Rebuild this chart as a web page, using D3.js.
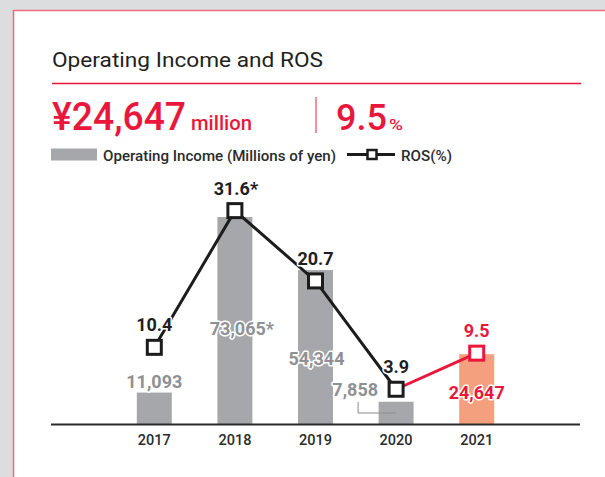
<!DOCTYPE html>
<html>
<head>
<meta charset="utf-8">
<script src="https://cdn.jsdelivr.net/npm/d3@7"></script>
<style>
  html, body { margin: 0; padding: 0; background: #dcdddf; }
  svg { display: block; font-family: Roboto, "Noto Sans", sans-serif; }
</style>
</head>
<body>
<svg id="chart" width="605" height="477"></svg>
<script>
// ---- data ----
const years = ["2017", "2018", "2019", "2020", "2021"];
const operatingIncome = [11093, 73065, 54344, 7858, 24647];
const incomeLabels = ["11,093", "73,065*", "54,344", "7,858", "24,647"];
const ros = [10.4, 31.6, 20.7, 3.9, 9.5];
const rosLabels = ["10.4", "31.6*", "20.7", "3.9", "9.5"];
const headlineIncome = "¥24,647";
const headlineIncomeUnit = "million";
const headlineRos = "9.5";
const headlineRosUnit = "%";
const titleText = "Operating Income and ROS";
const legendBarText = "Operating Income (Millions of yen)";
const legendLineText = "ROS(%)";

// ---- styles ----
const RED = "#e8173b";
const PINK = "#f06b7c";
const GRAY_BAR = "#a6a7aa";
const SALMON = "#f4a07f";
const GRAY_TXT = "#8f9094";
const DARK = "#1c1c1c";

const svg = d3.select("#chart");

// panel
svg.append("rect").attr("x", 13.5).attr("y", 10.5).attr("width", 620).attr("height", 500)
  .attr("fill", "#fff").attr("stroke", PINK).attr("stroke-width", 1.5);

// title
svg.append("text").attr("x", 52).attr("y", 67).text(titleText)
  .attr("font-size", 21).attr("fill", "#231f20").attr("textLength", 271).attr("lengthAdjust", "spacingAndGlyphs");
svg.append("line").attr("x1", 52).attr("x2", 581).attr("y1", 83.5).attr("y2", 83.5)
  .attr("stroke", RED).attr("stroke-width", 1.3);

// headline figures
svg.append("text").attr("x", 52).attr("y", 129.5).text(headlineIncome)
  .attr("font-size", 39).attr("font-weight", 500).attr("fill", RED)
  .attr("textLength", 134).attr("lengthAdjust", "spacingAndGlyphs");
svg.append("text").attr("x", 191).attr("y", 129.5).text(headlineIncomeUnit)
  .attr("font-size", 21).attr("font-weight", 500).attr("fill", RED)
  .attr("textLength", 61).attr("lengthAdjust", "spacingAndGlyphs");

svg.append("line").attr("x1", 316).attr("x2", 316).attr("y1", 97).attr("y2", 133)
  .attr("stroke", PINK).attr("stroke-width", 1.5);

svg.append("text").attr("x", 336).attr("y", 129.5).text(headlineRos)
  .attr("font-size", 36).attr("font-weight", 500).attr("fill", RED);
svg.append("text").attr("x", 389).attr("y", 129.5).text(headlineRosUnit)
  .attr("font-size", 15).attr("font-weight", 500).attr("fill", RED)
  .attr("textLength", 14).attr("lengthAdjust", "spacingAndGlyphs");

// legend
svg.append("rect").attr("x", 51).attr("y", 148.5).attr("width", 46).attr("height", 12).attr("fill", GRAY_BAR);
svg.append("text").attr("x", 103).attr("y", 160.5).text(legendBarText)
  .attr("font-size", 15).attr("font-weight", 500).attr("fill", "#2b2b2b")
  .attr("textLength", 233).attr("lengthAdjust", "spacingAndGlyphs");
svg.append("line").attr("x1", 347).attr("x2", 395).attr("y1", 154.5).attr("y2", 154.5)
  .attr("stroke", DARK).attr("stroke-width", 3);
svg.append("rect").attr("x", 367.5).attr("y", 150).attr("width", 9).attr("height", 9)
  .attr("fill", "#fff").attr("stroke", DARK).attr("stroke-width", 2.5);
svg.append("text").attr("x", 401).attr("y", 160.5).text(legendLineText)
  .attr("font-size", 15).attr("font-weight", 500).attr("fill", "#2b2b2b")
  .attr("textLength", 51).attr("lengthAdjust", "spacingAndGlyphs");

// ---- scales ----
const x = d3.scaleBand().domain(years).range([114, 517]).paddingInner(0.566).paddingOuter(0.283);
const y = d3.scaleLinear().domain([0, 80000]).range([424, 197.4]);
const y2 = d3.scaleLinear().domain([0, 35]).range([414.4, 188.7]);
const cx = d => x(d) + x.bandwidth() / 2;

const data = years.map((yr, i) => ({ year: yr, income: operatingIncome[i], incomeLabel: incomeLabels[i], ros: ros[i], rosLabel: rosLabels[i], i }));
const last = data.length - 1;

// bars
svg.append("g").selectAll("rect").data(data).join("rect")
  .attr("x", d => x(d.year)).attr("width", x.bandwidth())
  .attr("y", d => y(d.income)).attr("height", d => y(0) - y(d.income))
  .attr("fill", d => d.i === last ? SALMON : GRAY_BAR);

// axis
const axis = svg.append("g").attr("transform", `translate(0,${y(0)})`)
  .call(d3.axisBottom(x).tickSize(0).tickPadding(11));
axis.select(".domain").remove();
axis.append("line").attr("x1", 51).attr("x2", 580).attr("y1", 0.5).attr("y2", 0.5)
  .attr("stroke", "#2a2a2a").attr("stroke-width", 1.8);
axis.selectAll(".tick text").attr("font-size", 14.5).attr("font-weight", 500)
  .attr("fill", "#2b2b2b").attr("font-family", "Roboto, sans-serif").attr("dy", "0.71em");

// leader line for 2020 label
const l2020 = data[3];
svg.append("path")
  .attr("d", `M${cx(l2020.year) - 38},${y(0) - 22} V${y(0) - 11} H${cx(l2020.year)}`)
  .attr("fill", "none").attr("stroke", "#8a8b8e").attr("stroke-width", 1);

// bar value labels (layout offsets kept separately from data)
const incomeLabelLayout = [
  { dx: 0, y: d => y(d.income) - 5, anchor: "middle" },
  { dx: 7, y: () => 335, anchor: "middle" },
  { dx: 1, y: () => 365, anchor: "middle" },
  { dx: -18, y: () => 396, anchor: "end" },
  { dx: 0, y: () => 399, anchor: "middle" }
];
svg.append("g").selectAll("text").data(data).join("text")
  .attr("x", d => cx(d.year) + incomeLabelLayout[d.i].dx)
  .attr("y", d => incomeLabelLayout[d.i].y(d))
  .attr("text-anchor", d => incomeLabelLayout[d.i].anchor)
  .attr("font-size", 18).attr("font-weight", 700)
  .attr("fill", d => d.i === last ? RED : GRAY_TXT)
  .attr("stroke", "#fff").attr("stroke-width", 3).attr("paint-order", "stroke")
  .attr("stroke-linejoin", "round")
  .text(d => d.incomeLabel);

// ROS line
const line = d3.line().x(d => cx(d.year)).y(d => y2(d.ros));
svg.append("path").datum(data.slice(0, last))
  .attr("d", line).attr("fill", "none").attr("stroke", DARK).attr("stroke-width", 3);
svg.append("path").datum(data.slice(last - 1))
  .attr("d", line).attr("fill", "none").attr("stroke", RED).attr("stroke-width", 3);

// ROS labels
svg.append("g").selectAll("text").data(data).join("text")
  .attr("x", d => cx(d.year) + (d.rosLabel.endsWith("*") ? 1 : 0))
  .attr("y", d => y2(d.ros) - 16)
  .attr("text-anchor", "middle")
  .attr("font-size", 18).attr("font-weight", 700)
  .attr("fill", d => d.i === last ? RED : "#1f1f1f")
  .attr("stroke", "#fff").attr("stroke-width", 3).attr("paint-order", "stroke")
  .attr("stroke-linejoin", "round")
  .text(d => d.rosLabel);

// markers
const S = 14;
svg.append("g").selectAll("rect").data(data).join("rect")
  .attr("x", d => cx(d.year) - S / 2).attr("y", d => y2(d.ros) - S / 2)
  .attr("width", S).attr("height", S)
  .attr("fill", "#fff").attr("stroke", d => d.i === last ? RED : DARK).attr("stroke-width", 3);
</script>
</body>
</html>
